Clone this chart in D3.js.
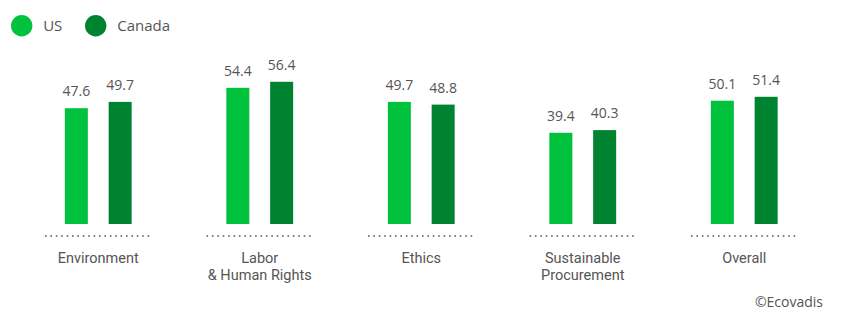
<!DOCTYPE html>
<html><head><meta charset="utf-8">
<script src="https://cdn.jsdelivr.net/npm/d3@7"></script>
<style>body{margin:0;background:#fff}svg{display:block}text{font-family:"Open Sans",sans-serif;fill:#555}text.cat{font-family:Roboto,sans-serif}</style>
</head><body><svg id="c" width="848" height="326"></svg>
<script>
const categories = [["Environment"], ["Labor", "& Human Rights"], ["Ethics"], ["Sustainable", "Procurement"], ["Overall"]];
const seriesNames = ["US", "Canada"];
const usValues = [47.6, 54.4, 49.7, 39.4, 50.1];
const canadaValues = [49.7, 56.4, 48.8, 40.3, 51.4];
const colors = ["#00c23d", "#008331"];

const svg = d3.select("#c");
const keys = categories.map((c, i) => i);
const x = d3.scaleBand().domain(keys).range([17.5, 825]);
const y = d3.scaleLinear().domain([9, 70]).range([224, 41]);
const sub = d3.scaleBand().domain(seriesNames).range([-33.4, 33.4]).paddingInner(0.475).paddingOuter(0);
const series = [usValues, canadaValues];

const g = svg.append("g");
series.forEach((vals, si) => {
  const name = seriesNames[si];
  g.selectAll(".b" + si).data(vals).join("rect")
    .attr("x", (d, i) => x(i) + x.bandwidth() / 2 + sub(name))
    .attr("width", sub.bandwidth())
    .attr("y", d => y(d))
    .attr("height", d => y.range()[0] - y(d))
    .attr("fill", colors[si]);
  g.selectAll(".t" + si).data(vals).join("text")
    .attr("x", (d, i) => x(i) + x.bandwidth() / 2 + sub(name) + sub.bandwidth() / 2)
    .attr("y", d => y(d) - 12)
    .attr("text-anchor", "middle")
    .attr("font-size", 14)
    .text(d => d.toFixed(1));
});

// dotted baselines
svg.selectAll(".base").data(keys).join("line")
  .attr("x1", d => x(d) + 27.5).attr("x2", d => x(d) + x.bandwidth() - 27.5)
  .attr("y1", 236).attr("y2", 236)
  .attr("stroke", "#555").attr("stroke-width", 1.6).attr("stroke-dasharray", "1.6,3.8");

// category labels (one text per line)
const lines = [];
categories.forEach((c, i) => c.forEach((t, j) => lines.push({ i, j, t })));
svg.selectAll(".cat").data(lines).join("text")
  .attr("class", "cat")
  .attr("text-anchor", "middle").attr("font-size", 14.5)
  .attr("x", d => x(d.i) + x.bandwidth() / 2)
  .attr("y", d => 262.5 + d.j * 17)
  .text(d => d.t);

// legend
const leg = svg.append("g");
const legX = [21.7, 95.7];
seriesNames.forEach((n, i) => {
  leg.append("circle").attr("cx", legX[i]).attr("cy", 25.7).attr("r", 10.7).attr("fill", colors[i]);
  leg.append("text").attr("x", legX[i] + 21.5).attr("y", 31).attr("font-size", 15).text(n);
});

svg.append("text").attr("x", 823).attr("y", 306.5).attr("text-anchor", "end").attr("font-size", 14).text("©Ecovadis");
</script></body></html>
